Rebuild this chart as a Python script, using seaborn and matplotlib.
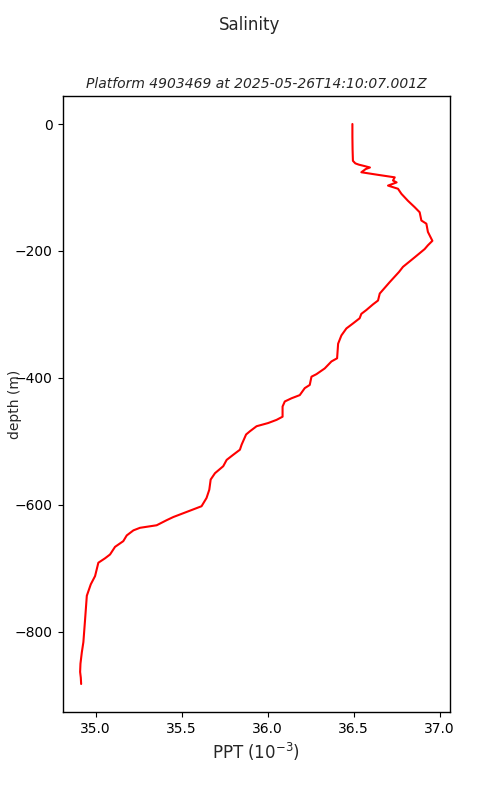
import matplotlib
matplotlib.use("Agg")
import matplotlib.pyplot as plt
import seaborn as sns
import pandas as pd

depth = [0, -20, -40, -58, -62, -64, -66, -68.5, -71, -76, -80, -84, -89, -92, -97, -102,
         -110, -121, -131, -139, -152, -157, -170, -184, -191, -197, -210, -225, -233,
         -249, -267, -278, -284, -293, -299, -306, -314, -322, -333, -346, -369, -374,
         -385, -394, -398, -411, -416, -427, -432, -437, -445, -461, -466, -471, -476,
         -484, -489, -497, -505, -513, -521, -529, -539, -550, -560, -576, -589, -602,
         -610, -619, -624, -632, -636, -640, -648, -657, -666, -678, -684, -691, -712,
         -725, -743, -780, -816, -832, -850, -863, -872, -882]
salinity = [36.493, 36.493, 36.494, 36.496, 36.51, 36.53, 36.56, 36.595, 36.57, 36.545,
            36.64, 36.739, 36.729, 36.75, 36.70, 36.758, 36.778, 36.816, 36.855, 36.884,
            36.894, 36.923, 36.932, 36.958, 36.932, 36.913, 36.855, 36.787, 36.764,
            36.71, 36.652, 36.642, 36.613, 36.574, 36.545, 36.535, 36.497, 36.458,
            36.429, 36.41, 36.404, 36.371, 36.332, 36.284, 36.255, 36.245, 36.216,
            36.187, 36.139, 36.10, 36.087, 36.087, 36.052, 36.003, 35.936, 35.897,
            35.875, 35.862, 35.849, 35.839, 35.80, 35.762, 35.742, 35.694, 35.669,
            35.661, 35.645, 35.616, 35.539, 35.452, 35.413, 35.355, 35.258, 35.22,
            35.181, 35.161, 35.113, 35.084, 35.055, 35.016, 34.997, 34.972, 34.949,
            34.939, 34.929, 34.92, 34.912, 34.91, 34.914, 34.916]

df = pd.DataFrame({"salinity": salinity, "depth": depth})

sns.set_style("ticks")
fig, ax = plt.subplots(figsize=(5, 8), dpi=100)
fig.subplots_adjust(left=0.125, right=0.9, top=0.88, bottom=0.11)
sns.lineplot(data=df, x="salinity", y="depth", sort=False, orient="y",
             color="red", linewidth=1.5, ax=ax)
ax.set_xticks([35.0, 35.5, 36.0, 36.5, 37.0])
ax.set_yticks([0, -200, -400, -600, -800])
ax.set_xlabel("PPT ($10^{-3}$)", fontsize=12)
ax.set_ylabel("depth (m)", fontsize=10)
ax.yaxis.set_label_coords(-0.104, 0.5)
ax.set_title("Platform 4903469 at 2025-05-26T14:10:07.001Z", fontsize=10, style="italic")
fig.suptitle("Salinity", fontsize=12)
for s in ax.spines.values():
    s.set_visible(True)
    s.set_color("black")
    s.set_linewidth(1.0)
ax.tick_params(colors="black", labelsize=10)
fig.savefig("out.png", dpi=100)
